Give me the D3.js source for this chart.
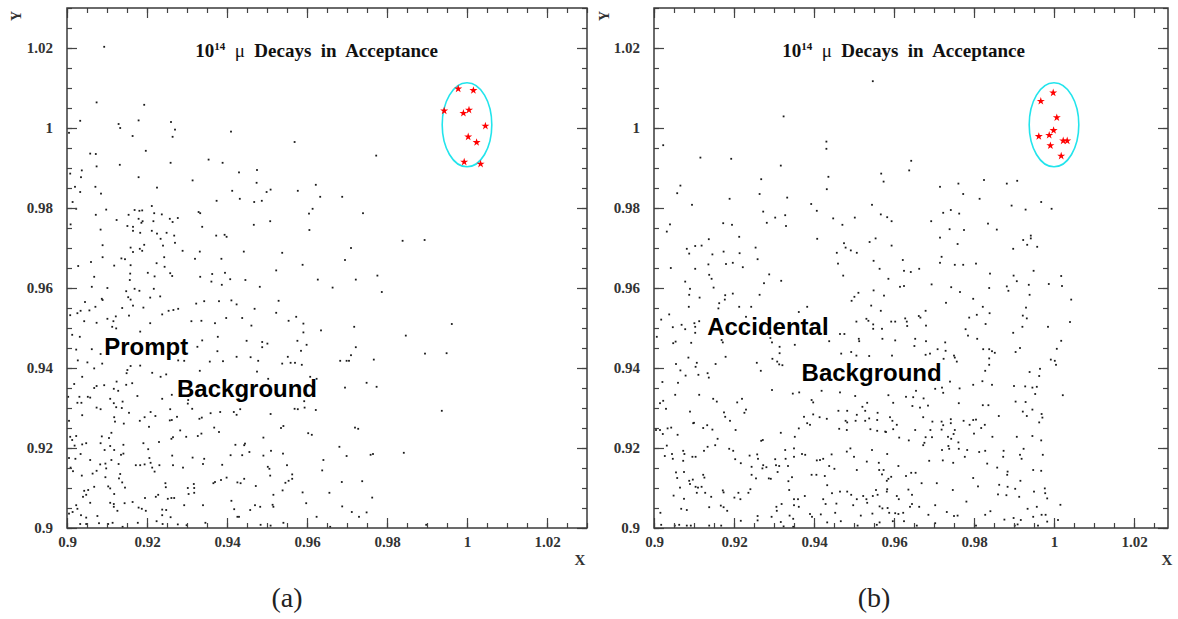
<!DOCTYPE html>
<html>
<head>
<meta charset="utf-8">
<script src="https://cdn.jsdelivr.net/npm/d3@7"></script>
<style>
  html, body { margin: 0; padding: 0; background: #fff; }
  svg { display: block; }
  .tick text { font-family: "Liberation Serif", "Times New Roman", serif; font-weight: bold; font-size: 15px; fill: #333; }
</style>
</head>
<body>
<svg id="chart" width="1178" height="619"></svg>
<script>
const xTicks = [0.9, 0.92, 0.94, 0.96, 0.98, 1, 1.02];
const xTickLabels = ['0.9', '0.92', '0.94', '0.96', '0.98', '1', '1.02'];
const yTicks = [0.9, 0.92, 0.94, 0.96, 0.98, 1, 1.02];
const yTickLabels = ['0.9', '0.92', '0.94', '0.96', '0.98', '1', '1.02'];

// signal region drawn round the expected (1, 1) point
const ellipseCenter = [1.0, 1.0008];
const ellipseRadii = [0.0062, 0.0105];

// 10^14 signal events (red stars)
const promptSignal = [
  [0.9978,1.0098],[1.0016,1.0094],[0.9943,1.0043],[0.9991,1.0037],[1.0005,1.0045],
  [1.0046,1.0005],[1.0003,0.9978],[1.0024,0.9964],[0.9993,0.9915],[1.0034,0.9910]
];
const accidentalSignal = [
  [0.9998,1.0088],[0.9967,1.0067],[1.0007,1.0026],[0.9999,0.9994],[0.9988,0.9982],
  [0.9962,0.9979],[1.0023,0.9968],[1.0033,0.9968],[0.9991,0.9956],[1.0018,0.9930]
];

// background events
const promptBg = [
[0.9093,1.0203],[0.9074,1.0064],[0.9193,1.0058],[0.9033,1.0018],[0.9179,1.0019],[0.9129,1.0010],[0.9133,1.0000],[0.9260,1.0015],[0.9270,0.9996],[0.9264,0.9978],
[0.9164,0.9980],[0.9410,0.9991],[0.9005,0.9988],[0.9569,0.9965],[0.9197,0.9943],[0.9058,0.9936],[0.9072,0.9935],[0.9074,0.9904],[0.9132,0.9908],[0.9259,0.9913],
[0.9354,0.9921],[0.9389,0.9913],[0.9037,0.9894],[0.9008,0.9886],[0.9035,0.9877],[0.9179,0.9877],[0.9314,0.9869],[0.9430,0.9889],[0.9475,0.9895],[0.9474,0.9863],
[0.9020,0.9853],[0.9071,0.9853],[0.9225,0.9851],[0.9033,0.9840],[0.9085,0.9836],[0.9413,0.9843],[0.9432,0.9823],[0.9499,0.9840],[0.9509,0.9846],[0.9577,0.9843],
[0.9773,0.9931],[0.9622,0.9858],[0.9633,0.9828],[0.9688,0.9828],
[0.9468,0.9815],[0.9487,0.9818],[0.9374,0.9818],[0.9014,0.9815],[0.9023,0.9798],[0.9072,0.9783],[0.9098,0.9796],[0.9169,0.9795],[0.9181,0.9793],[0.9188,0.9794],
[0.9212,0.9805],[0.9154,0.9783],[0.9218,0.9787],[0.9237,0.9784],[0.9124,0.9770],[0.9179,0.9773],[0.9186,0.9763],[0.9189,0.9767],[0.9216,0.9767],[0.9257,0.9773],
[0.9264,0.9765],[0.9277,0.9775],[0.9329,0.9790],[0.9333,0.9787],[0.9009,0.9759],[0.9151,0.9755],[0.9165,0.9753],[0.9165,0.9743],[0.9084,0.9746],[0.9212,0.9743],
[0.9225,0.9736],[0.9249,0.9738],[0.9234,0.9723],[0.9268,0.9731],[0.9183,0.9738],[0.9338,0.9753],[0.9373,0.9731],[0.9394,0.9733],[0.9399,0.9728],[0.9467,0.9758],
[0.9508,0.9767],[0.9270,0.9713],[0.9240,0.9706],[0.9089,0.9707],[0.9193,0.9708],[0.9159,0.9701],[0.9182,0.9698],[0.9188,0.9693],[0.9165,0.9690],[0.9289,0.9693],
[0.9332,0.9691],[0.9442,0.9691],[0.9538,0.9688],[0.9089,0.9677],[0.9136,0.9674],[0.9145,0.9672],[0.9060,0.9665],[0.9028,0.9655],[0.9118,0.9656],[0.9159,0.9657],
[0.9224,0.9662],[0.9244,0.9653],[0.9243,0.9677],[0.9320,0.9673],[0.9386,0.9673],[0.9523,0.9644],[0.9202,0.9638],[0.9219,0.9629],[0.9258,0.9637],[0.9263,0.9630],
[0.9363,0.9635],[0.9395,0.9638],[0.9158,0.9636],[0.9068,0.9628],[0.9157,0.9620],[0.9333,0.9628],[0.9361,0.9616],[0.9387,0.9608],[0.9408,0.9622],[0.9446,0.9620],
[0.9482,0.9603],[0.9062,0.9603],[0.9101,0.9600],[0.9148,0.9592],[0.9169,0.9598],[0.9181,0.9593],[0.9217,0.9598],[0.9087,0.9573],[0.9089,0.9570],[0.9153,0.9577],
[0.9159,0.9571],[0.9208,0.9576],[0.9233,0.9579],[0.9045,0.9565],[0.9056,0.9544],[0.9071,0.9553],[0.9034,0.9543],[0.9026,0.9537],[0.9008,0.9532],[0.9138,0.9550],
[0.9165,0.9556],[0.9191,0.9551],[0.9155,0.9531],[0.9238,0.9534],[0.9254,0.9543],[0.9266,0.9545],[0.9278,0.9548],[0.9323,0.9561],[0.9343,0.9567],[0.9380,0.9567],
[0.9411,0.9569],[0.9424,0.9559],[0.9469,0.9548],[0.9529,0.9568],[0.9523,0.9538],[0.9573,0.9528],[0.9043,0.9517],[0.9074,0.9513],[0.9101,0.9523],[0.9113,0.9503],
[0.9116,0.9517],[0.9122,0.9529],[0.9123,0.9499],[0.9183,0.9491],[0.9208,0.9512],[0.9311,0.9517],[0.9336,0.9518],[0.9370,0.9512],[0.9398,0.9525],[0.9438,0.9525],
[0.9461,0.9506],[0.9554,0.9518],[0.9013,0.9483],[0.9032,0.9478],[0.9377,0.9478],[0.9449,0.9468],[0.9488,0.9465],[0.9501,0.9461],[0.9576,0.9468],[0.9023,0.9446],
[0.9062,0.9447],[0.9084,0.9435],[0.9326,0.9453],[0.9338,0.9469],[0.9376,0.9442],[0.9424,0.9428],[0.9459,0.9427],[0.9478,0.9418],[0.9488,0.9452],[0.9027,0.9419],
[0.9051,0.9414],[0.9068,0.9399],[0.9088,0.9411],[0.9278,0.9419],[0.9293,0.9418],[0.9357,0.9416],[0.9390,0.9417],[0.9538,0.9411],[0.9552,0.9428],[0.9559,0.9413],
[0.9570,0.9413],[0.9151,0.9395],[0.9149,0.9387],[0.9159,0.9405],[0.9183,0.9406],[0.9213,0.9388],[0.9234,0.9378],[0.9248,0.9384],[0.9332,0.9393],[0.9475,0.9391],
[0.9503,0.9373],[0.9038,0.9378],
[0.9018,0.9360],[0.9074,0.9355],[0.9068,0.9350],[0.9093,0.9357],[0.9117,0.9348],[0.9124,0.9366],[0.9128,0.9343],[0.9148,0.9358],[0.9163,0.9362],[0.9176,0.9330],
[0.9238,0.9323],[0.9262,0.9333],[0.9003,0.9328],[0.9026,0.9313],[0.9036,0.9313],[0.9031,0.9328],[0.9052,0.9328],[0.9058,0.9326],[0.9117,0.9312],[0.9139,0.9316],
[0.9108,0.9323],[0.9303,0.9320],[0.9313,0.9298],[0.9302,0.9311],[0.9074,0.9301],[0.9084,0.9297],[0.9123,0.9302],[0.9137,0.9300],[0.9155,0.9288],[0.9209,0.9290],
[0.9221,0.9280],[0.9258,0.9297],[0.9262,0.9270],[0.9275,0.9278],[0.9331,0.9273],[0.9337,0.9276],[0.9359,0.9287],[0.9383,0.9290],[0.9417,0.9290],[0.9424,0.9283],
[0.9433,0.9297],[0.9509,0.9285],[0.9569,0.9298],[0.9577,0.9297],[0.9005,0.9268],[0.9038,0.9282],[0.9118,0.9277],[0.9120,0.9266],[0.9142,0.9261],[0.9182,0.9268],
[0.9194,0.9277],[0.9205,0.9253],[0.9257,0.9269],[0.9283,0.9244],[0.9368,0.9251],[0.9380,0.9240],[0.9327,0.9230],[0.9336,0.9236],[0.9541,0.9255],[0.9535,0.9250],
[0.9008,0.9228],[0.9013,0.9220],[0.9023,0.9230],[0.9019,0.9206],[0.9038,0.9209],[0.9048,0.9212],[0.9034,0.9185],[0.9087,0.9229],[0.9105,0.9225],[0.9111,0.9238],
[0.9084,0.9212],[0.9108,0.9205],[0.9094,0.9195],[0.9118,0.9195],[0.9141,0.9208],[0.9135,0.9183],[0.9141,0.9186],[0.9191,0.9212],[0.9203,0.9197],[0.9230,0.9215],
[0.9261,0.9223],[0.9265,0.9227],[0.9298,0.9228],[0.9421,0.9208],[0.9443,0.9207],[0.9445,0.9211],[0.9456,0.9190],[0.9491,0.9226],[0.9510,0.9193],[0.9540,0.9186],
[0.9005,0.9175],[0.9021,0.9173],[0.9058,0.9170],[0.9083,0.9159],[0.9096,0.9161],[0.9098,0.9149],[0.9111,0.9170],[0.9129,0.9160],[0.9172,0.9157],[0.9183,0.9157],
[0.9194,0.9159],[0.9206,0.9175],[0.9209,0.9163],[0.9213,0.9151],[0.9219,0.9141],[0.9231,0.9157],[0.9263,0.9181],[0.9265,0.9157],[0.9290,0.9151],[0.9314,0.9176],
[0.9340,0.9160],[0.9343,0.9173],[0.9409,0.9182],[0.9438,0.9182],[0.9388,0.9158],[0.9491,0.9181],[0.9502,0.9153],[0.9506,0.9148],[0.9508,0.9131],[0.9550,0.9157],
[0.9563,0.9134],[0.9009,0.9151],[0.9015,0.9142],[0.9037,0.9131],[0.9064,0.9136],[0.9074,0.9143],[0.9096,0.9127],[0.9133,0.9135],[0.9130,0.9124],[0.9138,0.9114],
[0.9103,0.9104],[0.9108,0.9099],[0.9118,0.9085],[0.9145,0.9101],[0.9043,0.9093],[0.9053,0.9095],[0.9048,0.9083],[0.9068,0.9103],[0.9040,0.9078],[0.9058,0.9063],
[0.9023,0.9057],[0.9026,0.9048],[0.9005,0.9036],[0.9014,0.9040],[0.9035,0.9032],[0.9048,0.9026],[0.9076,0.9030],[0.9108,0.9063],[0.9117,0.9060],[0.9117,0.9053],
[0.9126,0.9043],[0.9144,0.9062],[0.9164,0.9065],[0.9179,0.9051],[0.9187,0.9048],[0.9197,0.9043],[0.9195,0.9075],[0.9222,0.9078],[0.9228,0.9083],[0.9246,0.9112],
[0.9247,0.9102],[0.9252,0.9073],[0.9261,0.9075],[0.9268,0.9075],[0.9238,0.9046],[0.9248,0.9045],[0.9238,0.9032],[0.9259,0.9027],[0.9293,0.9057],[0.9302,0.9100],
[0.9304,0.9085],[0.9317,0.9110],[0.9318,0.9100],[0.9318,0.9088],[0.9340,0.9057],[0.9366,0.9112],[0.9370,0.9115],[0.9385,0.9120],[0.9399,0.9126],[0.9426,0.9114],
[0.9434,0.9112],[0.9443,0.9123],[0.9472,0.9105],[0.9411,0.9068],[0.9418,0.9047],[0.9426,0.9028],[0.9430,0.9028],[0.9458,0.9045],[0.9470,0.9057],[0.9483,0.9053],
[0.9514,0.9058],[0.9516,0.9053],[0.9516,0.9083],[0.9539,0.9094],[0.9546,0.9113],[0.9554,0.9118],[0.9563,0.9123],[0.9033,0.9010],[0.9048,0.9010],[0.9080,0.9012],
[0.9103,0.9010],[0.9114,0.9013],[0.9139,0.9003],[0.9177,0.9013],[0.9224,0.9017],[0.9239,0.9010],[0.9277,0.9009],[0.9299,0.9007],[0.9346,0.9013],[0.9484,0.9008],
[0.9509,0.9006],[0.9541,0.9013],
[0.9614,0.9798],[0.9605,0.9786],[0.9740,0.9787],[0.9606,0.9745],[0.9839,0.9718],[0.9894,0.9720],[0.9710,0.9700],[0.9695,0.9670],[0.9589,0.9658],[0.9627,0.9621],
[0.9722,0.9621],[0.9776,0.9631],[0.9664,0.9601],[0.9787,0.9590],[0.9591,0.9511],[0.9591,0.9489],[0.9635,0.9494],[0.9718,0.9503],[0.9962,0.9510],[0.9847,0.9481],
[0.9599,0.9458],[0.9585,0.9443],[0.9722,0.9452],[0.9710,0.9432],[0.9895,0.9436],[0.9949,0.9437],[0.9587,0.9408],[0.9683,0.9418],[0.9699,0.9418],[0.9705,0.9418],
[0.9767,0.9421],[0.9608,0.9378],[0.9624,0.9373],
[0.9695,0.9351],[0.9749,0.9363],[0.9774,0.9353],[0.9593,0.9317],[0.9594,0.9301],[0.9622,0.9295],[0.9937,0.9293],[0.9720,0.9251],[0.9728,0.9248],[0.9603,0.9237],
[0.9612,0.9233],[0.9681,0.9203],[0.9699,0.9180],[0.9759,0.9183],[0.9765,0.9185],[0.9842,0.9188],[0.9641,0.9170],[0.9638,0.9144],[0.9687,0.9115],[0.9738,0.9117],
[0.9589,0.9089],[0.9656,0.9088],[0.9598,0.9062],[0.9763,0.9076],[0.9688,0.9054],[0.9712,0.9040],[0.9730,0.9028],[0.9749,0.9039],[0.9624,0.9028],[0.9658,0.9003],
[0.9898,0.9008]
];

const accidentalBg = [
[0.9023,0.9957],[0.9547,1.0117],[0.9324,1.0029],[0.9431,0.9966],[0.9431,0.9948],[0.9116,0.9926],[0.9193,0.9923],[0.9317,0.9906],[0.9568,0.9886],[0.9574,0.9866],
[0.9066,0.9856],[0.9058,0.9837],[0.9268,0.9872],[0.9436,0.9878],[0.9264,0.9835],[0.9432,0.9847],[0.9189,0.9823],[0.9333,0.9826],
[0.9643,0.9918],[0.9638,0.9894],[0.9715,0.9853],[0.9761,0.9861],[0.9773,0.9835],[0.9814,0.9823],[0.9825,0.9870],[0.9882,0.9861],[0.9908,0.9868],
[0.9095,0.9808],[0.9393,0.9810],[0.9407,0.9793],[0.9545,0.9808],[0.9567,0.9784],[0.9583,0.9777],[0.9273,0.9791],[0.9303,0.9776],[0.9328,0.9782],[0.9330,0.9755],
[0.9282,0.9763],[0.9040,0.9759],[0.9032,0.9741],[0.9173,0.9762],[0.9195,0.9758],[0.9213,0.9728],[0.9448,0.9774],[0.9502,0.9776],[0.9471,0.9758],[0.9408,0.9723],
[0.9137,0.9722],[0.9119,0.9706],[0.9103,0.9705],[0.9082,0.9698],[0.9088,0.9686],[0.9146,0.9684],[0.9174,0.9691],[0.9214,0.9687],[0.9254,0.9701],[0.9259,0.9672],
[0.9136,0.9659],[0.9180,0.9660],[0.9197,0.9663],[0.9222,0.9652],[0.9042,0.9650],[0.9103,0.9648],[0.9457,0.9688],[0.9475,0.9712],[0.9479,0.9701],[0.9492,0.9694],
[0.9507,0.9688],[0.9460,0.9661],[0.9473,0.9631],[0.9539,0.9715],[0.9554,0.9724],[0.9549,0.9668],[0.9564,0.9648],[0.9586,0.9623],[0.9138,0.9633],[0.9144,0.9623],
[0.9078,0.9616],[0.9090,0.9598],[0.9149,0.9601],[0.9288,0.9634],[0.9275,0.9612],[0.9318,0.9618],[0.9088,0.9583],[0.9114,0.9576],[0.9178,0.9582],[0.9197,0.9586],
[0.9264,0.9583],[0.9177,0.9571],[0.9163,0.9562],[0.9161,0.9549],[0.9087,0.9553],[0.9213,0.9553],[0.9243,0.9553],[0.9494,0.9568],[0.9501,0.9578],[0.9511,0.9588],
[0.9549,0.9594],[0.9575,0.9581],[0.9543,0.9556],[0.9567,0.9543],[0.9018,0.9521],[0.9038,0.9534],[0.9069,0.9508],[0.9047,0.9502],[0.9078,0.9497],[0.9101,0.9512],
[0.9103,0.9503],[0.9103,0.9488],[0.9113,0.9517],[0.9383,0.9553],[0.9362,0.9540],[0.9230,0.9528],[0.9291,0.9475],[0.9506,0.9516],[0.9531,0.9523],[0.9536,0.9518],
[0.9548,0.9509],[0.9548,0.9498],[0.9570,0.9498],[0.9571,0.9473],[0.9465,0.9485],[0.9476,0.9485],[0.9512,0.9473],[0.9513,0.9467],[0.9438,0.9467],[0.9048,0.9462],
[0.9054,0.9466],[0.9093,0.9463],[0.9172,0.9464],[0.9295,0.9464],[0.9352,0.9458],[0.9007,0.9478],[0.9169,0.9470],[0.9179,0.9428],[0.9086,0.9426],[0.9107,0.9413],
[0.9104,0.9403],[0.9055,0.9410],[0.9079,0.9381],[0.9066,0.9394],[0.9111,0.9383],[0.9134,0.9387],[0.9137,0.9376],[0.9154,0.9410],[0.9257,0.9413],[0.9267,0.9393],
[0.9296,0.9423],[0.9308,0.9416],[0.9313,0.9409],[0.9321,0.9407],[0.9314,0.9437],[0.9314,0.9453],[0.9468,0.9436],[0.9493,0.9440],[0.9506,0.9431],[0.9538,0.9430],
[0.9968,0.9815],[0.9994,0.9798],[0.9894,0.9806],[0.9929,0.9796],[0.9723,0.9788],[0.9742,0.9795],[0.9763,0.9786],[0.9594,0.9767],[0.9693,0.9767],[0.9835,0.9761],
[0.9857,0.9746],[0.9739,0.9747],[0.9775,0.9745],[0.9715,0.9726],[0.9759,0.9710],[0.9923,0.9720],[0.9942,0.9731],[0.9942,0.9724],[0.9933,0.9708],[0.9958,0.9703],
[0.9898,0.9698],[0.9594,0.9706],[0.9719,0.9678],[0.9622,0.9670],[0.9715,0.9663],[0.9752,0.9658],[0.9773,0.9658],[0.9805,0.9661],[0.9625,0.9643],[0.9642,0.9640],
[0.9663,0.9648],[0.9840,0.9636],[0.9949,0.9643],[0.9899,0.9631],[1.0018,0.9630],[0.9907,0.9617],[0.9694,0.9609],[0.9743,0.9602],[0.9765,0.9590],[0.9838,0.9600],
[0.9882,0.9604],[0.9886,0.9593],[0.9937,0.9608],[0.9987,0.9610],[1.0020,0.9605],[0.9615,0.9603],[0.9625,0.9605],[0.9939,0.9583],[1.0043,0.9571],[0.9730,0.9563],
[0.9798,0.9573],[0.9822,0.9553],[0.9930,0.9551],[0.9679,0.9543],[0.9662,0.9530],[0.9666,0.9526],[0.9628,0.9524],[0.9632,0.9516],[0.9593,0.9516],[0.9603,0.9516],
[0.9633,0.9505],[0.9680,0.9506],[0.9788,0.9526],[0.9807,0.9533],[0.9839,0.9537],[0.9829,0.9510],[0.9922,0.9531],[0.9932,0.9524],[0.9921,0.9503],[0.9985,0.9503],
[1.0040,0.9515],[0.9779,0.9497],[0.9785,0.9481],[0.9808,0.9473],[0.9898,0.9488],[0.9603,0.9469],[0.9653,0.9473],[0.9651,0.9455],[0.9680,0.9467],[0.9728,0.9464],
[0.9709,0.9447],[0.9729,0.9443],[0.9679,0.9433],[0.9690,0.9436],[0.9595,0.9431],[0.9724,0.9423],[0.9750,0.9431],[0.9752,0.9426],[0.9757,0.9416],[0.9823,0.9447],
[0.9838,0.9447],[0.9845,0.9442],[0.9852,0.9438],[0.9838,0.9424],[0.9838,0.9408],[0.9828,0.9393],[0.9915,0.9450],[0.9904,0.9440],[1.0018,0.9468],[1.0007,0.9448],
[0.9992,0.9421],[1.0002,0.9418],[1.0005,0.9408],[0.9939,0.9390],[0.9965,0.9398],[0.9963,0.9380],
[0.9021,0.9365],[0.9060,0.9363],[0.9053,0.9333],[0.9015,0.9312],[0.9023,0.9318],[0.9030,0.9298],[0.9113,0.9333],[0.9148,0.9323],[0.9157,0.9316],[0.9090,0.9291],
[0.9100,0.9263],[0.9175,0.9289],[0.9178,0.9278],[0.9190,0.9268],[0.9208,0.9314],[0.9220,0.9323],[0.9226,0.9288],[0.9230,0.9296],[0.9295,0.9345],[0.9347,0.9336],
[0.9363,0.9339],[0.9394,0.9320],[0.9398,0.9314],[0.9419,0.9343],[0.9465,0.9339],[0.9503,0.9330],[0.9521,0.9303],[0.9533,0.9313],[0.9461,0.9293],[0.9483,0.9293],
[0.9507,0.9283],[0.9528,0.9293],[0.9559,0.9288],[0.9398,0.9284],[0.9414,0.9277],[0.9432,0.9273],[0.9375,0.9278],[0.9383,0.9262],[0.9390,0.9258],[0.9362,0.9249],
[0.9479,0.9268],[0.9483,0.9264],[0.9504,0.9268],[0.9528,0.9268],[0.9538,0.9274],[0.9558,0.9270],[0.9463,0.9248],[0.9482,0.9245],[0.9541,0.9247],[0.9558,0.9243],
[0.9578,0.9241],[0.9005,0.9245],[0.9015,0.9245],[0.9022,0.9235],[0.9034,0.9249],[0.9043,0.9251],[0.9059,0.9233],[0.9098,0.9262],[0.9123,0.9250],[0.9133,0.9257],
[0.9146,0.9246],[0.9159,0.9223],[0.9204,0.9245],[0.9268,0.9218],[0.9272,0.9220],[0.9317,0.9238],[0.9352,0.9228],[0.9032,0.9206],[0.9027,0.9180],[0.9045,0.9185],
[0.9047,0.9173],[0.9073,0.9193],[0.9076,0.9185],[0.9096,0.9178],[0.9104,0.9178],[0.9073,0.9168],[0.9125,0.9193],[0.9134,0.9203],[0.9153,0.9207],[0.9188,0.9198],
[0.9198,0.9193],[0.9203,0.9172],[0.9239,0.9181],[0.9217,0.9162],[0.9258,0.9184],[0.9260,0.9173],[0.9271,0.9149],[0.9273,0.9157],[0.9281,0.9152],[0.9244,0.9153],
[0.9244,0.9133],[0.9255,0.9124],[0.9287,0.9124],[0.9292,0.9123],[0.9303,0.9172],[0.9305,0.9157],[0.9309,0.9140],[0.9313,0.9155],[0.9328,0.9195],[0.9329,0.9173],
[0.9350,0.9199],[0.9350,0.9178],[0.9370,0.9185],[0.9378,0.9183],[0.9407,0.9169],[0.9415,0.9170],[0.9423,0.9173],[0.9427,0.9130],[0.9433,0.9107],[0.9438,0.9155],
[0.9451,0.9148],[0.9444,0.9184],[0.9482,0.9191],[0.9491,0.9199],[0.9500,0.9178],[0.9507,0.9145],[0.9532,0.9166],[0.9545,0.9195],[0.9562,0.9163],[0.9583,0.9185],
[0.9394,0.9133],[0.9406,0.9133],[0.9335,0.9155],[0.9055,0.9139],[0.9058,0.9125],[0.9065,0.9101],[0.9075,0.9140],[0.9088,0.9118],[0.9090,0.9110],[0.9097,0.9121],
[0.9104,0.9103],[0.9107,0.9088],[0.9110,0.9101],[0.9119,0.9103],[0.9123,0.9133],[0.9126,0.9126],[0.9128,0.9088],[0.9143,0.9078],[0.9138,0.9052],[0.9049,0.9081],
[0.9075,0.9073],[0.9068,0.9048],[0.9082,0.9045],[0.9016,0.9038],[0.9018,0.9008],[0.9052,0.9006],[0.9063,0.9008],[0.9082,0.9006],[0.9092,0.9006],[0.9138,0.9006],
[0.9168,0.9006],[0.9172,0.9094],[0.9174,0.9089],[0.9167,0.9056],[0.9174,0.9052],[0.9183,0.9043],[0.9201,0.9076],[0.9211,0.9088],[0.9216,0.9072],[0.9236,0.9088],
[0.9241,0.9097],[0.9217,0.9018],[0.9259,0.9030],[0.9259,0.9019],[0.9294,0.9028],[0.9306,0.9053],[0.9319,0.9060],[0.9307,0.9043],[0.9317,0.9015],[0.9324,0.9004],
[0.9336,0.9117],[0.9338,0.9095],[0.9345,0.9127],[0.9350,0.9072],[0.9350,0.9057],[0.9360,0.9072],[0.9362,0.9053],[0.9377,0.9080],[0.9339,0.9031],[0.9348,0.9023],
[0.9348,0.9003],[0.9390,0.9035],[0.9395,0.9028],[0.9417,0.9034],[0.9423,0.9072],[0.9429,0.9060],[0.9445,0.9087],[0.9456,0.9061],[0.9453,0.9038],[0.9465,0.9091],
[0.9483,0.9091],[0.9493,0.9083],[0.9498,0.9057],[0.9507,0.9072],[0.9517,0.9031],[0.9523,0.9080],[0.9531,0.9072],[0.9533,0.9063],[0.9547,0.9080],[0.9555,0.9095],
[0.9559,0.9083],[0.9564,0.9054],[0.9546,0.9036],[0.9564,0.9014],[0.9433,0.9014],[0.9467,0.9017],[0.9509,0.9006],[0.9557,0.9008],[0.9582,0.9091],[0.9584,0.9050],
[0.9586,0.9123],[0.9570,0.9134],[0.9563,0.9145],
[0.9586,0.9332],[0.9598,0.9313],[0.9630,0.9328],[0.9648,0.9327],[0.9655,0.9343],[0.9646,0.9305],[0.9665,0.9301],[0.9685,0.9306],[0.9674,0.9324],[0.9703,0.9348],
[0.9723,0.9338],[0.9720,0.9351],[0.9740,0.9366],[0.9764,0.9349],[0.9762,0.9312],[0.9798,0.9358],[0.9821,0.9367],[0.9845,0.9358],[0.9822,0.9307],[0.9836,0.9307],
[0.9862,0.9280],[0.9900,0.9355],[0.9928,0.9354],[0.9946,0.9351],[0.9957,0.9353],[0.9953,0.9335],[0.9904,0.9316],[0.9929,0.9315],[0.9922,0.9291],[0.9946,0.9296],
[0.9932,0.9280],[0.9969,0.9285],[0.9971,0.9276],[0.9963,0.9264],[1.0022,0.9332],[0.9590,0.9277],[0.9596,0.9268],[0.9598,0.9247],[0.9607,0.9258],[0.9580,0.9240],
[0.9613,0.9226],[0.9637,0.9219],[0.9653,0.9245],[0.9673,0.9277],[0.9696,0.9266],[0.9691,0.9245],[0.9679,0.9227],[0.9695,0.9227],[0.9676,0.9213],[0.9673,0.9207],
[0.9719,0.9266],[0.9723,0.9257],[0.9719,0.9246],[0.9742,0.9272],[0.9742,0.9262],[0.9752,0.9245],[0.9735,0.9228],[0.9749,0.9235],[0.9743,0.9223],[0.9761,0.9214],
[0.9736,0.9205],[0.9720,0.9195],[0.9738,0.9198],[0.9762,0.9198],[0.9783,0.9195],[0.9774,0.9268],[0.9789,0.9258],[0.9798,0.9270],[0.9805,0.9271],[0.9818,0.9250],
[0.9827,0.9258],[0.9800,0.9236],[0.9846,0.9228],[0.9813,0.9190],[0.9828,0.9193],[0.9777,0.9178],[0.9688,0.9168],[0.9722,0.9169],[0.9748,0.9163],[0.9833,0.9161],
[0.9858,0.9151],[0.9873,0.9178],[0.9874,0.9193],[0.9907,0.9228],[0.9915,0.9183],[0.9919,0.9173],[0.9924,0.9198],[0.9946,0.9230],[0.9968,0.9219],[0.9972,0.9183],
[0.9948,0.9145],[0.9968,0.9143],[0.9884,0.9141],[0.9883,0.9133],[0.9863,0.9108],[0.9884,0.9103],[0.9860,0.9084],[0.9881,0.9082],[0.9903,0.9098],[0.9913,0.9078],
[0.9916,0.9118],[0.9950,0.9091],[0.9977,0.9099],[0.9978,0.9087],[0.9983,0.9074],[0.9934,0.9048],[0.9957,0.9053],[1.0016,0.9058],[0.9582,0.9118],[0.9593,0.9128],
[0.9574,0.9145],[0.9611,0.9155],[0.9630,0.9130],[0.9643,0.9138],[0.9654,0.9138],[0.9669,0.9112],[0.9707,0.9112],[0.9747,0.9095],[0.9781,0.9066],[0.9798,0.9125],
[0.9810,0.9104],[0.9583,0.9097],[0.9607,0.9080],[0.9612,0.9072],[0.9636,0.9096],[0.9645,0.9083],[0.9645,0.9060],[0.9640,0.9053],[0.9663,0.9053],[0.9703,0.9057],
[0.9588,0.9038],[0.9603,0.9037],[0.9611,0.9035],[0.9623,0.9038],[0.9571,0.9049],[0.9686,0.9033],[0.9732,0.9040],[0.9750,0.9030],[0.9759,0.9031],[0.9828,0.9033],
[0.9841,0.9042],[0.9876,0.9021],[0.9899,0.9025],[0.9909,0.9009],[0.9917,0.9020],[0.9948,0.9028],[0.9969,0.9033],[0.9979,0.9033],[0.9960,0.9006],[0.9983,0.9016],
[1.0010,0.9020],[0.9625,0.9017],[0.9657,0.9006],[0.9703,0.9012],[0.9805,0.9006],[0.9902,0.9006],[0.9597,0.9017]
];

const svg = d3.select('#chart');
const plotTop = 8, plotBottom = 528;

const panels = [
  { bg: promptBg, sig: promptSignal, xMax: 1.03, left: 67, right: 587,
    labels: ['Prompt', 'Background'], labelPos: [[0.9093, 0.9433], [0.9275, 0.9328]],
    tag: '(a)', xTitleX: 580, yTitleX: 21 },
  { bg: accidentalBg, sig: accidentalSignal, xMax: 1.0285, left: 654, right: 1168,
    labels: ['Accidental', 'Background'], labelPos: [[0.9133, 0.9483], [0.9369, 0.9368]],
    tag: '(b)', xTitleX: 1167, yTitleX: 609 }
];

const serif = '"Liberation Serif", "Times New Roman", serif';
const sans = '"Liberation Sans", Arial, Helvetica, sans-serif';
const minorAll = d3.range(27).map(i => +(0.9 + i * 0.005).toFixed(3));

panels.forEach(p => {
  const x = d3.scaleLinear().domain([0.9, p.xMax]).range([p.left, p.right]);
  const y = d3.scaleLinear().domain([0.9, 1.03]).range([plotBottom, plotTop]);
  const g = svg.append('g');
  const minorX = minorAll.filter(v => v <= p.xMax);

  // background dots
  g.append('g').selectAll('rect').data(p.bg).join('rect')
    .attr('x', d => x(d[0]) - 0.9)
    .attr('y', d => y(d[1]) - 0.9)
    .attr('width', 1.8)
    .attr('height', 1.8)
    .attr('fill', '#1a1a1a');

  // signal ellipse
  g.append('ellipse')
    .attr('cx', x(ellipseCenter[0]))
    .attr('cy', y(ellipseCenter[1]))
    .attr('rx', x(ellipseCenter[0] + ellipseRadii[0]) - x(ellipseCenter[0]))
    .attr('ry', y(ellipseCenter[1]) - y(ellipseCenter[1] + ellipseRadii[1]))
    .attr('fill', 'none')
    .attr('stroke', '#22e4ec')
    .attr('stroke-width', 1.6);

  // signal stars
  const star = d3.symbol(d3.symbolStar, 20);
  g.append('g').selectAll('path').data(p.sig).join('path')
    .attr('d', star)
    .attr('transform', d => `translate(${x(d[0])},${y(d[1])})`)
    .attr('fill', '#ff0000');

  // axes: ticks point inward on all four sides
  const axes = g.append('g').attr('color', '#444').attr('stroke-width', 1.2);
  const addAxis = (axis, tx, ty) => axes.append('g')
    .attr('transform', `translate(${tx},${ty})`)
    .call(axis.tickSizeOuter(0))
    .call(a => a.select('.domain').remove());

  addAxis(d3.axisBottom(x).tickValues(xTicks).tickFormat((d, i) => xTickLabels[i]).tickSizeInner(-10).tickPadding(8), 0, plotBottom);
  addAxis(d3.axisBottom(x).tickValues(minorX).tickFormat('').tickSizeInner(-5), 0, plotBottom);
  addAxis(d3.axisTop(x).tickValues(xTicks).tickFormat('').tickSizeInner(-10), 0, plotTop);
  addAxis(d3.axisTop(x).tickValues(minorX).tickFormat('').tickSizeInner(-5), 0, plotTop);
  addAxis(d3.axisLeft(y).tickValues(yTicks).tickFormat((d, i) => yTickLabels[i]).tickSizeInner(-10).tickPadding(14), p.left, 0);
  addAxis(d3.axisLeft(y).tickValues(minorAll).tickFormat('').tickSizeInner(-5), p.left, 0);
  addAxis(d3.axisRight(y).tickValues(yTicks).tickFormat('').tickSizeInner(-10), p.right, 0);
  addAxis(d3.axisRight(y).tickValues(minorAll).tickFormat('').tickSizeInner(-5), p.right, 0);

  // frame
  g.append('rect')
    .attr('x', p.left).attr('y', plotTop)
    .attr('width', p.right - p.left).attr('height', plotBottom - plotTop)
    .attr('fill', 'none')
    .attr('stroke', '#3a3a3a')
    .attr('stroke-width', 1.5);

  // title
  const title = g.append('text')
    .attr('x', x(0.9624)).attr('y', y(1.0178))
    .attr('text-anchor', 'middle')
    .style('font-family', serif).style('font-weight', 'bold').style('font-size', '19px')
    .style('white-space', 'pre').attr('fill', '#111');
  title.append('tspan').text('10');
  title.append('tspan').attr('dy', -7).style('font-size', '11px').text('14');
  title.append('tspan').attr('dy', 7).style('font-weight', 'normal').text('  \u03bc  ');
  title.append('tspan').text('Decays  in  Acceptance');

  // region labels
  p.labels.forEach((t, i) => {
    g.append('text')
      .attr('x', x(p.labelPos[i][0])).attr('y', y(p.labelPos[i][1]))
      .style('font-family', sans).style('font-weight', 'bold').style('font-size', '24px')
      .attr('fill', '#000')
      .text(t);
  });

  // axis titles
  g.append('text')
    .attr('x', p.xTitleX).attr('y', 565)
    .attr('text-anchor', 'middle')
    .style('font-family', serif).style('font-weight', 'bold').style('font-size', '15px')
    .attr('fill', '#333').text('X');
  g.append('text')
    .attr('transform', `translate(${p.yTitleX},16) rotate(-90)`)
    .attr('text-anchor', 'middle')
    .style('font-family', serif).style('font-weight', 'bold').style('font-size', '14px')
    .attr('fill', '#333').text('Y');

  // sub-figure tag
  g.append('text')
    .attr('x', x(0.955)).attr('y', 607)
    .attr('text-anchor', 'middle')
    .style('font-family', serif).style('font-size', '28px')
    .attr('fill', '#222').text(p.tag);
});
</script>
</body>
</html>
